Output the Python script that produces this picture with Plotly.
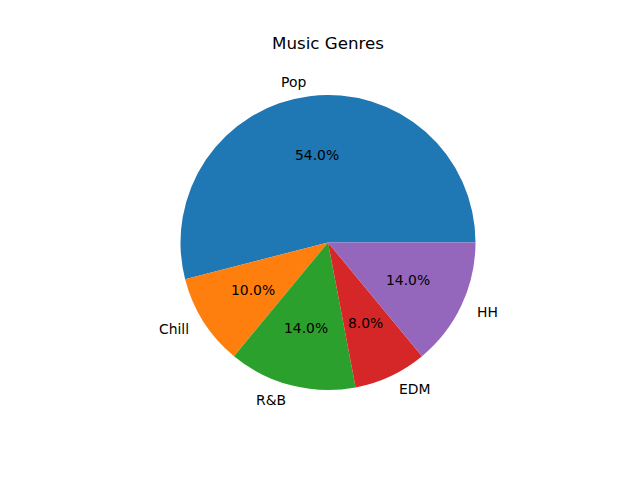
import math
import plotly.graph_objects as go

labels = ["Pop", "Chill", "R&B", "EDM", "HH"]
values = [54, 10, 14, 8, 14]
colors = ["#1f77b4", "#ff7f0e", "#2ca02c", "#d62728", "#9467bd"]
title = "Music Genres"

W, H = 640, 480
OFF = 8  # page body margin
cx, cy, R = 328 - OFF, 242.4 - OFF, 147.8
font = "DejaVu Sans"

total = sum(values)
# plotly counterclockwise: first slice placed ending at rotation; shift so it starts at 3 o'clock
rot = 90 - 360 * values[0] / total

fig = go.Figure(go.Pie(
    labels=labels, values=values, sort=False, direction="counterclockwise",
    rotation=rot, textinfo="none", hoverinfo="label+percent",
    marker=dict(colors=colors, line=dict(width=0)), showlegend=False,
))

annotations = []
start = 0.0
for lab, v in zip(labels, values):
    frac = v / total
    mid = math.radians((start + frac / 2) * 360)
    start += frac
    c, s = math.cos(mid), math.sin(mid)
    annotations.append(dict(
        x=0.5 + 0.5 * 1.1 * c, y=0.5 + 0.5 * 1.1 * s, xref="paper", yref="paper",
        text=lab, showarrow=False, xanchor="left" if c > 0 else "right",
        yanchor="middle", font=dict(family=font, size=13.9, color="black")))
    annotations.append(dict(
        x=0.5 + 0.5 * 0.6 * c, y=0.5 + 0.5 * 0.6 * s, xref="paper", yref="paper",
        text=f"{frac*100:.1f}%", showarrow=False, xanchor="center",
        yanchor="middle", font=dict(family=font, size=13.9, color="black")))

fig.update_layout(
    width=W, height=H,
    margin=dict(l=cx - R, r=W - (cx + R), t=cy - R, b=H - (cy + R), pad=0),
    paper_bgcolor="white", plot_bgcolor="white",
    title=dict(text=title, x=cx / W, xanchor="center", y=1 - (43 - OFF) / H,
               yanchor="middle", yref="container",
               font=dict(family=font, size=16.7, color="black")),
    annotations=annotations,
)
fig.write_html("out.html")
